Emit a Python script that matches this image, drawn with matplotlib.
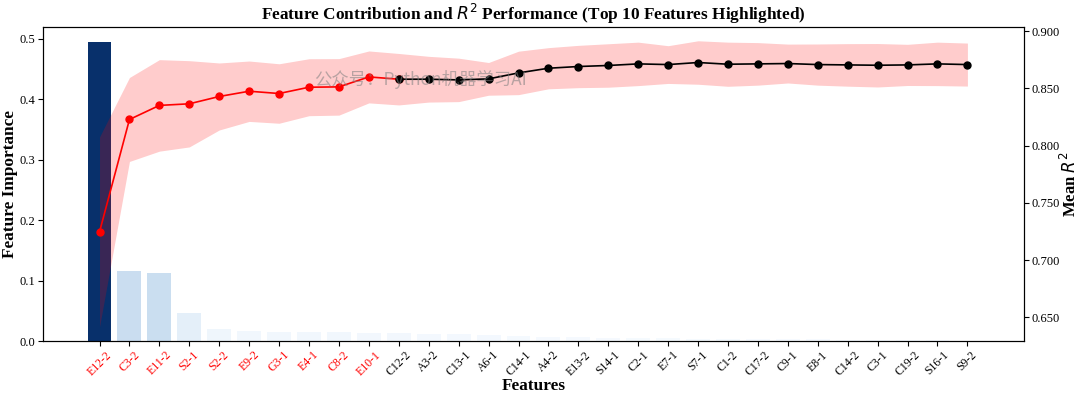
import numpy as np
import matplotlib
matplotlib.use("Agg")
import matplotlib.pyplot as plt
from matplotlib import cm

features = ["E12-2", "C3-2", "E11-2", "S2-1", "S2-2", "E9-2", "G3-1", "E4-1", "C8-2", "E10-1",
            "C12-2", "A3-2", "C13-1", "A6-1", "C14-1", "A4-2", "E13-2", "S14-1", "C2-1", "E7-1",
            "S7-1", "C1-2", "C17-2", "C9-1", "E8-1", "C14-2", "C3-1", "C19-2", "S16-1", "S9-2"]
importance = [0.495, 0.116, 0.113, 0.047, 0.021, 0.017, 0.016, 0.016, 0.0155, 0.014,
              0.014, 0.0115, 0.0115, 0.0105, 0.0095, 0.007, 0.0065, 0.006, 0.0055, 0.005,
              0.0045, 0.004, 0.0035, 0.003, 0.003, 0.0025, 0.002, 0.002, 0.0015, 0.001]
mean_r2 = [0.7246, 0.8229, 0.8352, 0.8366, 0.8430, 0.8476, 0.8456, 0.8511, 0.8514, 0.8601,
           0.8581, 0.8581, 0.8575, 0.8584, 0.8636, 0.8677, 0.8692, 0.8701, 0.8715, 0.8709,
           0.8727, 0.8712, 0.8715, 0.8718, 0.8709, 0.8706, 0.8703, 0.8706, 0.8715, 0.8709]
std_r2 = [0.083, 0.0367, 0.040, 0.0377, 0.0293, 0.0264, 0.026, 0.0249, 0.0247, 0.0227,
          0.0225, 0.020, 0.019, 0.0143, 0.019, 0.018, 0.0185, 0.019, 0.019, 0.0165,
          0.019, 0.0193, 0.0186, 0.017, 0.018, 0.0186, 0.019, 0.018, 0.019, 0.0188]
top_n = 10

plt.rcParams['font.family'] = ['Liberation Serif', 'DejaVu Serif']
plt.rcParams['mathtext.fontset'] = 'dejavusans'

fig = plt.figure(figsize=(10.8, 3.98), dpi=100)
ax = fig.add_axes([0.0395, 0.1425, 0.9089, 0.7904])

x = np.arange(len(features))
imp = np.array(importance)
colors = cm.Blues(imp / imp.max())
ax.bar(x, imp, width=0.8, color=colors, zorder=1)
ax.set_xlim(-1.9, 30.9)
ax.set_ylim(0, 0.52)
ax.set_xticks(x)
ax.set_xticklabels(features, rotation=45, fontsize=8.5)
for i, lbl in enumerate(ax.get_xticklabels()):
    lbl.set_color('red' if i < top_n else 'black')
ax.tick_params(axis='y', labelsize=9, pad=2)
ax.tick_params(axis='x', pad=2)
ax.set_yticks([0.0, 0.1, 0.2, 0.3, 0.4, 0.5])
ax.set_ylabel("Feature Importance", fontsize=12.4, fontweight='bold', labelpad=1)
ax.set_xlabel("Features", fontsize=12.4, fontweight='bold', labelpad=0)

ax2 = ax.twinx()
m = np.array(mean_r2)
s = np.array(std_r2)
ax2.fill_between(x, m - s, m + s, color='red', alpha=0.2, linewidth=0)
ax2.plot(x[:top_n + 1], m[:top_n + 1], color='red', marker='o', markersize=5, linewidth=1.2, zorder=3)
ax2.plot(x[top_n:], m[top_n:], color='black', marker='o', markersize=5, linewidth=1.2, zorder=4)
ax2.set_ylim(0.629, 0.904)
ax2.set_yticks([0.65, 0.70, 0.75, 0.80, 0.85, 0.90])
ax2.set_yticklabels(["0.650", "0.700", "0.750", "0.800", "0.850", "0.900"])
ax2.tick_params(axis='y', labelsize=9, pad=2)
ax2.set_ylabel("Mean $R^2$", fontsize=12, fontweight='bold', labelpad=0)
ax2.set_xlim(-1.9, 30.9)

ax.set_title("Feature Contribution and $R^2$ Performance (Top 10 Features Highlighted)",
             fontsize=12.4, fontweight='bold', pad=5)

fig.text(0.291, 0.80, "公众号：Python机器学习AI", fontsize=12.5, color='gray', alpha=0.55,
         family=['Noto Sans CJK SC', 'DejaVu Sans'], va='center', ha='left')

fig.savefig("out.png", dpi=100)
